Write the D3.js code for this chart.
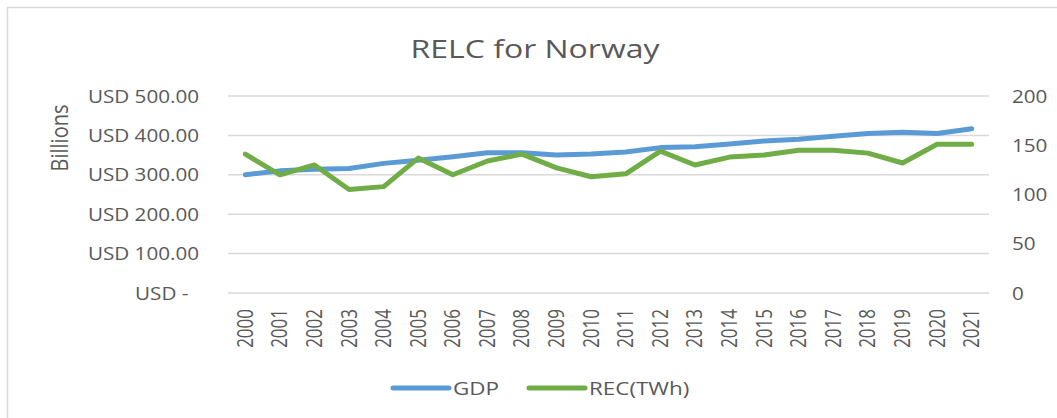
<!DOCTYPE html>
<html>
<head>
<meta charset="utf-8">
<script src="https://cdn.jsdelivr.net/npm/d3@7"></script>
<style>
  body { margin: 0; background: #fff; }
  text { font-family: "Open Sans", "Noto Sans", sans-serif; fill: #595959; }
</style>
</head>
<body>
<div class="box"></div>
<script>
const years = ['2000','2001','2002','2003','2004','2005','2006','2007','2008','2009','2010',
               '2011','2012','2013','2014','2015','2016','2017','2018','2019','2020','2021'];
const gdp = [300, 310, 314, 316, 329, 337, 346, 356, 356, 350, 353,
             358, 369, 371, 378, 386, 390, 398, 405, 408, 405, 417];
const rec = [141, 120, 130, 105, 108, 137, 120, 134, 141, 127, 118,
             121, 144, 130, 138, 140, 145, 145, 142, 132, 151, 151];
const leftTicks = [0, 100, 200, 300, 400, 500];
const rightTicks = [0, 50, 100, 150, 200];

const dims = {width: 1057, height: 418};
const plot = {left: 228, right: 989, top: 96, bottom: 293};
const sx = 1.18; // le texte de l'original est étiré en largeur

const svg = d3.select('.box')
              .append('svg')
              .attr('width', dims.width)
              .attr('height', dims.height);

// cadre
svg.append('rect')
   .attr('x', 7.5).attr('y', 7.5)
   .attr('width', dims.width + 20).attr('height', dims.height + 20)
   .attr('fill', 'none').attr('stroke', '#d9d9d9').attr('stroke-width', 1.5);

const x = d3.scaleBand().domain(years).range([plot.left, plot.right]);
const yL = d3.scaleLinear().domain([0, 500]).range([plot.bottom, plot.top]);
const yR = d3.scaleLinear().domain([0, 200]).range([plot.bottom, plot.top]);

// grille
svg.append('g')
   .selectAll('line')
   .data(leftTicks)
   .join('line')
   .attr('x1', plot.left).attr('x2', plot.right)
   .attr('y1', d => yL(d)).attr('y2', d => yL(d))
   .attr('stroke', '#d9d9d9').attr('stroke-width', 1.5);

// axe gauche
const fmt = d => d === 0 ? 'USD -' : 'USD ' + d3.format('.2f')(d);
const leftAxis = svg.append('g')
   .attr('transform', `translate(${plot.left - 29}, 0)`)
   .call(d3.axisLeft(yL).tickValues(leftTicks).tickFormat(fmt).tickSize(0).tickPadding(0));
leftAxis.select('.domain').remove();
leftAxis.selectAll('text')
   .attr('font-size', 17.5).attr('dy', '0.35em')
   .attr('dx', d => d === 0 ? -9 : 0)
   .attr('transform', `scale(${sx}, 1)`);

// axe droit
const rightAxis = svg.append('g')
   .attr('transform', `translate(${plot.right + 23}, 0)`)
   .call(d3.axisRight(yR).tickValues(rightTicks).tickSize(0).tickPadding(0));
rightAxis.select('.domain').remove();
rightAxis.selectAll('text')
   .attr('font-size', 17.5).attr('dy', '0.35em')
   .attr('transform', `scale(${sx}, 1)`);

// axe des années
const bottomAxis = svg.append('g')
   .attr('transform', `translate(0, ${plot.bottom})`)
   .call(d3.axisBottom(x).tickSize(0).tickPadding(0));
bottomAxis.select('.domain').remove();
bottomAxis.selectAll('text')
   .attr('font-size', 17)
   .attr('text-anchor', 'end')
   .attr('transform', 'rotate(-90) scale(1, 1.25)')
   .attr('x', -16).attr('y', 0).attr('dy', '0.35em');

svg.selectAll('.tick text').attr('fill', '#595959');

// titre
svg.append('text')
   .attr('transform', `translate(535, 58) scale(1.28, 1)`)
   .attr('text-anchor', 'middle')
   .attr('font-size', 25)
   .text('RELC for Norway');

svg.append('text')
   .attr('transform', `translate(60, 138) rotate(-90) scale(1, ${sx})`)
   .attr('text-anchor', 'middle')
   .attr('dy', '0.35em')
   .attr('font-size', 20)
   .text('Billions');

// lignes
const lineL = d3.line().x((d, i) => x(years[i]) + x.bandwidth() / 2).y(d => yL(d));
const lineR = d3.line().x((d, i) => x(years[i]) + x.bandwidth() / 2).y(d => yR(d));

svg.append('path').datum(gdp)
   .attr('d', lineL).attr('fill', 'none')
   .attr('stroke', '#5b9bd5').attr('stroke-width', 5)
   .attr('stroke-linecap', 'round').attr('stroke-linejoin', 'round');

svg.append('path').datum(rec)
   .attr('d', lineR).attr('fill', 'none')
   .attr('stroke', '#70ad47').attr('stroke-width', 5)
   .attr('stroke-linecap', 'round').attr('stroke-linejoin', 'round');

// légende
const legend = [
  {name: 'GDP', color: '#5b9bd5', x: 393},
  {name: 'REC(TWh)', color: '#70ad47', x: 529}
];
const lg = svg.append('g').selectAll('g').data(legend).join('g')
   .attr('transform', d => `translate(${d.x}, 388)`);
lg.append('line')
  .attr('x1', 0).attr('x2', 56).attr('y1', 0).attr('y2', 0)
  .attr('stroke', d => d.color).attr('stroke-width', 5).attr('stroke-linecap', 'round');
lg.append('text')
  .attr('transform', `translate(60, 0) scale(1.18, 1)`)
  .attr('dy', '0.35em')
  .attr('font-size', 19)
  .text(d => d.name);
</script>
</body>
</html>
